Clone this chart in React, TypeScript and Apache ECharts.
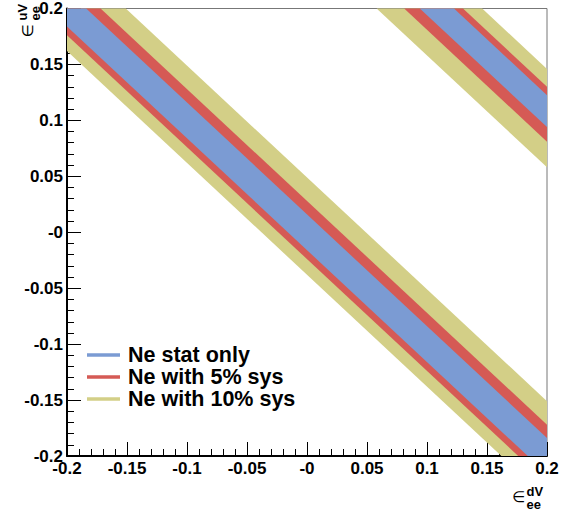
import React, { useEffect, useRef } from 'react';
import * as echarts from 'echarts';

// Series (drawn back to front)
const seriesNames = ['Ne with 10% sys', 'Ne with 5% sys', 'Ne stat only'];
const seriesColors = ['#d3cf87', '#d55a55', '#7b9bd3'];
// Allowed bands expressed as limits of (eps_dV + eps_uV): main solution and second solution
const mainLower = [-0.038, -0.024, -0.016];
const mainUpper = [0.049, 0.028, 0.016];
const altLower = [0.258, 0.281, 0.294];
const altUpper = [0.346, 0.33, 0.3225];
const legendOrder = ['Ne stat only', 'Ne with 5% sys', 'Ne with 10% sys'];
const xRange = [-0.2, 0.2];
const yRange = [-0.2, 0.2];
const tickStep = 0.05;

const FONT = '"Liberation Sans", Arial, Helvetica, sans-serif';

type P = number[];
function clipHalf(poly: P[], f: (p: P) => number): P[] {
  const out: P[] = [];
  for (let i = 0; i < poly.length; i++) {
    const a = poly[i];
    const b = poly[(i + 1) % poly.length];
    const fa = f(a);
    const fb = f(b);
    if (fa >= 0) out.push(a);
    if ((fa >= 0) !== (fb >= 0)) {
      const t = fa / (fa - fb);
      out.push([a[0] + t * (b[0] - a[0]), a[1] + t * (b[1] - a[1])]);
    }
  }
  return out;
}

function labelFmt(v: number) {
  if (Math.abs(v) < 1e-9) return '-0';
  return String(+v.toFixed(2));
}

function titleGroup(x: number, y: number, rot: number, sup: string, sub: string, gap: number) {
  return {
    type: 'group',
    x,
    y,
    rotation: rot,
    children: [
      {
        type: 'text',
        x: 0,
        y: 0,
        style: { text: '\u2208', font: '15px "DejaVu Sans", sans-serif', fill: '#000', verticalAlign: 'middle', align: 'left' },
      },
      {
        type: 'text',
        x: gap,
        y: -6,
        style: { text: sup, font: 'bold 13px ' + FONT, fill: '#000', verticalAlign: 'middle', align: 'left' },
      },
      {
        type: 'text',
        x: gap,
        y: 7,
        style: { text: sub, font: 'bold 13px ' + FONT, fill: '#000', verticalAlign: 'middle', align: 'left' },
      },
    ],
  };
}

export default function App() {
  const ref = useRef<HTMLDivElement>(null);
  useEffect(() => {
    if (!ref.current) return;
    const chart = echarts.init(ref.current, null, { renderer: 'svg' });

    const axisCommon = {
      type: 'value',
      interval: tickStep,
      splitLine: { show: false },
      minorSplitLine: { show: false },
      axisLine: { show: true, onZero: false, lineStyle: { color: '#000', width: 2 } },
      axisTick: { show: true, inside: true, length: 14, lineStyle: { color: '#000', width: 1 } },
      minorTick: { show: true, splitNumber: 5, length: 7, lineStyle: { color: '#000', width: 1 } },
      axisLabel: {
        color: '#000',
        fontSize: 17,
        fontWeight: 'bold',
        fontFamily: FONT,
        formatter: labelFmt,
      },
    };

    const series = seriesNames.map((name, i) => ({
      type: 'custom',
      name,
      itemStyle: { color: seriesColors[i] },
      data: [
        [mainLower[i], mainUpper[i]],
        [altLower[i], altUpper[i]],
      ],
      renderItem: (params: any, api: any) => {
        const lo = api.value(0);
        const hi = api.value(1);
        let poly: P[] = [
          [xRange[0], yRange[0]],
          [xRange[1], yRange[0]],
          [xRange[1], yRange[1]],
          [xRange[0], yRange[1]],
        ];
        poly = clipHalf(poly, (p) => p[0] + p[1] - lo);
        poly = clipHalf(poly, (p) => hi - p[0] - p[1]);
        if (poly.length < 3) return null;
        return {
          type: 'polygon',
          shape: { points: poly.map((p) => api.coord(p)) },
          style: { fill: seriesColors[i], stroke: null },
        };
      },
    }));

    chart.setOption({
      animation: false,
      grid: {
        left: 67,
        right: 20,
        top: 5,
        bottom: 59,
        show: true,
        borderColor: '#777',
        borderWidth: 1,
        backgroundColor: 'transparent',
      },
      xAxis: {
        ...axisCommon,
        min: xRange[0],
        max: xRange[1],
        position: 'bottom',
        axisLabel: { ...axisCommon.axisLabel, margin: 6, lineHeight: 13 },
      },
      yAxis: {
        ...axisCommon,
        min: yRange[0],
        max: yRange[1],
        position: 'left',
        axisLabel: { ...axisCommon.axisLabel, margin: 4, lineHeight: 11 },
      },
      legend: {
        data: legendOrder,
        orient: 'vertical',
        left: 87,
        top: 344,
        itemGap: 0,
        itemWidth: 33,
        itemHeight: 3.5,
        icon: 'rect',
        padding: 0,
        selectedMode: false,
        textStyle: {
          color: '#000',
          fontSize: 21.5,
          fontWeight: 'bold',
          fontFamily: FONT,
          lineHeight: 18.33,
          padding: [0, 0, 0, 3],
        },
      },
      graphic: [
        titleGroup(512, 497, 0, 'dV', 'ee', 14.5),
        titleGroup(28, 37.5, Math.PI / 2, 'uV', 'ee', 17),
      ],
      series,
    });

    return () => chart.dispose();
  }, []);

  return <div ref={ref} style={{ position: 'absolute', left: 0, top: 0, width: 567, height: 515 }} />;
}
